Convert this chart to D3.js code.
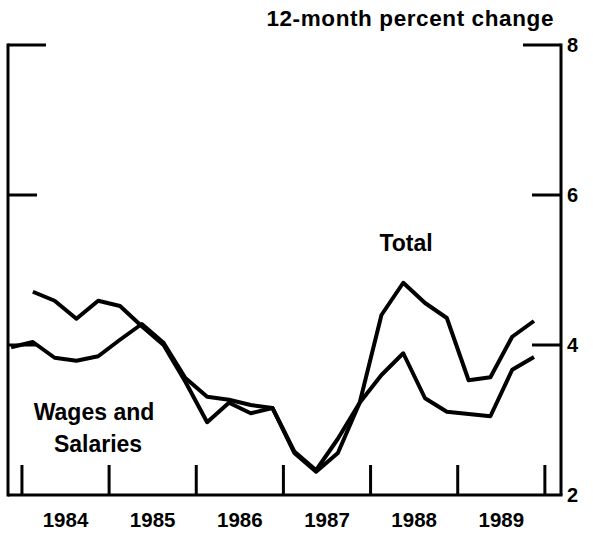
<!DOCTYPE html>
<html>
<head>
<meta charset="utf-8">
<script src="https://cdn.jsdelivr.net/npm/d3@7"></script>
<style>
  body { margin: 0; background: #fff; }
  svg { display: block; }
</style>
</head>
<body>
<svg id="chart" width="593" height="533"></svg>
<script>
// quarterly observations, plotted mid-quarter
const quarters = [
    "1983Q4",
    "1984Q1", "1984Q2", "1984Q3", "1984Q4",
    "1985Q1", "1985Q2", "1985Q3", "1985Q4",
    "1986Q1", "1986Q2", "1986Q3", "1986Q4",
    "1987Q1", "1987Q2", "1987Q3", "1987Q4",
    "1988Q1", "1988Q2", "1988Q3", "1988Q4",
    "1989Q1", "1989Q2", "1989Q3", "1989Q4"
];
const total = [
    null,
    4.71, 4.59, 4.35, 4.59,
    4.52, 4.25, 4.00, 3.51,
    2.97, 3.23, 3.09, 3.16,
    2.56, 2.31, 2.56, 3.23,
    4.40, 4.83, 4.56, 4.36,
    3.53, 3.57, 4.11, 4.32
];
const wages = [
    3.97,
    4.04, 3.83, 3.79, 3.85,
    4.07, 4.28, 4.03, 3.56,
    3.31, 3.27, 3.20, 3.16,
    2.58, 2.33, 2.75, 3.23,
    3.60, 3.89, 3.29, 3.11,
    3.08, 3.05, 3.67, 3.84
];
const years = [1984, 1985, 1986, 1987, 1988, 1989];
const yTicks = [2, 4, 6, 8];

const svg = d3.select("#chart");
const font = "'Liberation Sans', Arial, Helvetica, sans-serif";

const x = d3.scaleLinear().domain([1983.84, 1990.185]).range([8, 561]);
const y = d3.scaleLinear().domain([2, 8]).range([495, 45]);

function qTime(q) {
    return +q.slice(0, 4) + (+q.slice(5) - 1) * 0.25 + 0.125;
}

const ink = "#000";

// frame: left, bottom, right
const frame = svg.append("g").attr("stroke", ink).attr("stroke-width", 3).attr("fill", "none");
frame.append("line").attr("x1", x.range()[0]).attr("x2", x.range()[0]).attr("y1", y(8) - 1.5).attr("y2", y(2) + 1.5);
frame.append("line").attr("x1", x.range()[0]).attr("x2", x.range()[1] + 1.5).attr("y1", y(2)).attr("y2", y(2));
frame.append("line").attr("x1", x.range()[1]).attr("x2", x.range()[1]).attr("y1", y(8) - 1.5).attr("y2", y(2));

// y ticks on both sides (inward)
const tickLen = v => v === 8 ? 38 : 29;
frame.selectAll(".ytl")
    .data(yTicks.filter(v => v > 2))
    .join("line")
    .attr("x1", x.range()[0])
    .attr("x2", d => x.range()[0] + tickLen(d))
    .attr("y1", d => y(d))
    .attr("y2", d => y(d));
frame.selectAll(".ytr")
    .data(yTicks.filter(v => v > 2))
    .join("line")
    .attr("x1", x.range()[1])
    .attr("x2", d => x.range()[1] - tickLen(d))
    .attr("y1", d => y(d))
    .attr("y2", d => y(d));

// year boundary ticks (upward)
const bounds = years.concat([years[years.length - 1] + 1]);
frame.selectAll(".xt")
    .data(bounds)
    .join("line")
    .attr("x1", d => x(d))
    .attr("x2", d => x(d))
    .attr("y1", y(2))
    .attr("y2", y(2) - 30);

// y labels on the right
svg.append("g")
    .selectAll("text")
    .data(yTicks)
    .join("text")
    .attr("x", 567)
    .attr("y", d => y(d))
    .attr("dy", "0.36em")
    .attr("font-family", font)
    .attr("font-weight", "bold")
    .attr("font-size", 20)
    .attr("fill", ink)
    .text(d => d);

// year labels centered in each year
svg.append("g")
    .selectAll("text")
    .data(years)
    .join("text")
    .attr("x", d => x(d + 0.5))
    .attr("y", 527)
    .attr("text-anchor", "middle")
    .attr("font-family", font)
    .attr("font-weight", "bold")
    .attr("font-size", 20.5)
    .attr("fill", ink)
    .text(d => d);

svg.append("text")
    .attr("x", 554)
    .attr("y", 26)
    .attr("text-anchor", "end")
    .attr("font-family", font)
    .attr("font-weight", "bold")
    .attr("font-size", 22.5)
    .attr("letter-spacing", 0.6)
    .attr("fill", ink)
    .text("12-month percent change");

// series
const line = d3.line()
    .defined(d => d.v != null)
    .x(d => x(qTime(d.q)))
    .y(d => y(d.v));

const series = [total, wages].map(vals => quarters.map((q, i) => ({q: q, v: vals[i]})));
svg.append("g")
    .attr("fill", "none")
    .attr("stroke", ink)
    .attr("stroke-width", 4)
    .attr("stroke-linejoin", "round")
    .selectAll("path")
    .data(series)
    .join("path")
    .attr("d", line);

// series labels
const lab = svg.append("g")
    .attr("font-family", font)
    .attr("font-weight", "bold")
    .attr("font-size", 23)
    .attr("fill", ink)
    .attr("text-anchor", "middle");
lab.append("text").attr("x", 406).attr("y", 251).text("Total");
lab.append("text").attr("x", 94).attr("y", 420).text("Wages and");
lab.append("text").attr("x", 98).attr("y", 452).text("Salaries");
</script>
</body>
</html>
